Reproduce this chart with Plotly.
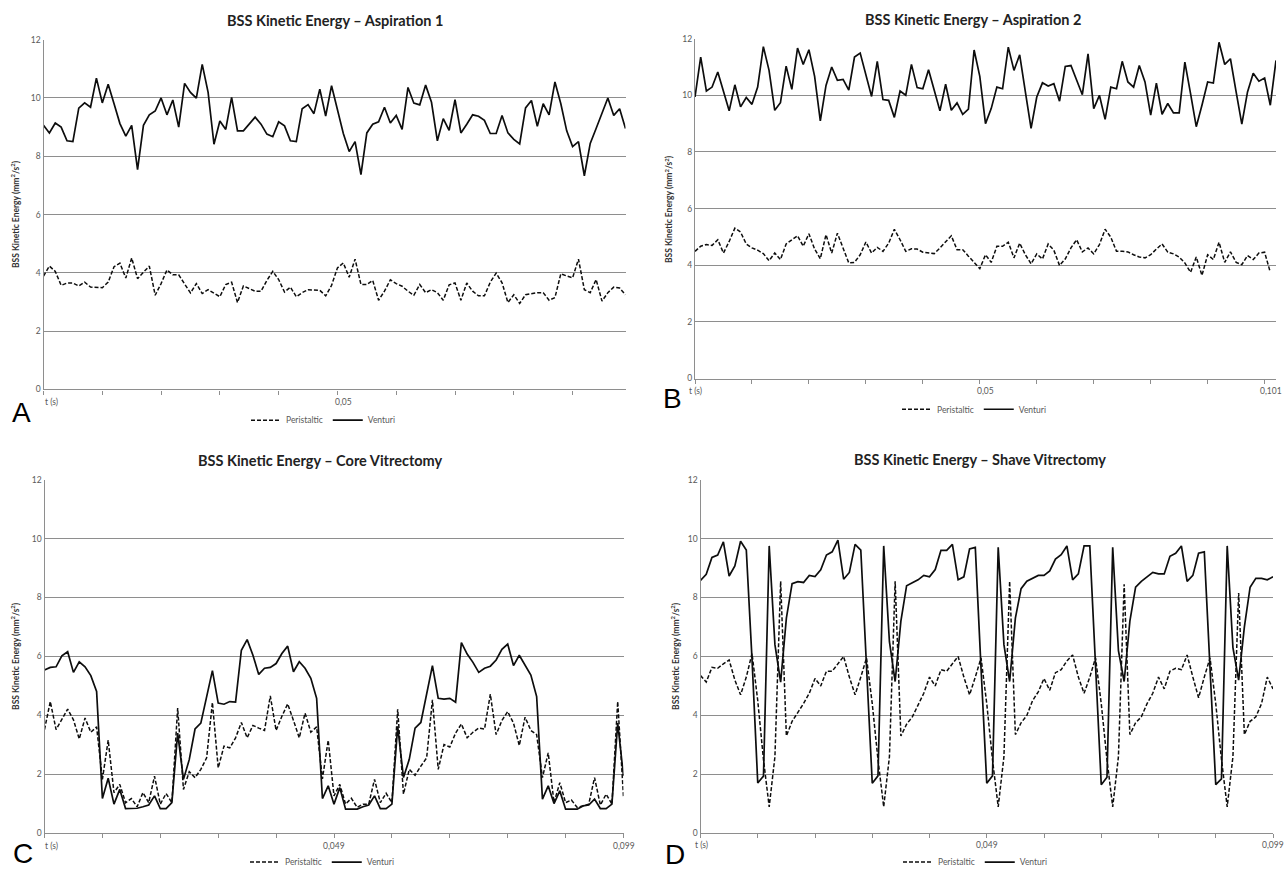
import plotly.graph_objects as go

W, H = 1285, 877

# ---------------- data ----------------
a_venturi = [9.06, 8.80, 9.14, 9.00, 8.53, 8.50, 9.65, 9.83, 9.68, 10.68,
             9.83, 10.47, 9.80, 9.12, 8.69, 9.06, 7.54, 9.06, 9.42, 9.55,
             10.00, 9.42, 9.93, 9.00, 10.50, 10.19, 9.99, 11.15, 10.19, 8.41,
             9.21, 8.92, 10.02, 8.87, 8.87, 9.12, 9.34, 9.10, 8.76, 8.67,
             9.18, 9.04, 8.53, 8.50, 9.63, 9.77, 9.46, 10.30, 9.38, 10.42,
             9.57, 8.78, 8.16, 8.50, 7.37, 8.80, 9.10, 9.18, 9.68, 9.14,
             9.40, 8.92, 10.36, 9.82, 9.76, 10.44, 9.85, 8.53, 9.29, 8.89,
             9.94, 8.80, 9.10, 9.42, 9.37, 9.23, 8.78, 8.78, 9.40, 8.80,
             8.58, 8.42, 9.66, 9.91, 9.03, 9.80, 9.42, 10.55, 9.80, 8.87,
             8.33, 8.50, 7.33, 8.44, 8.95, 9.46, 10.00, 9.40, 9.63, 8.95]
a_peristaltic = [3.89, 4.23, 4.05, 3.57, 3.65, 3.65, 3.55, 3.68, 3.51, 3.51,
                 3.49, 3.68, 4.21, 4.33, 3.82, 4.51, 3.80, 4.02, 4.23, 3.23,
                 3.63, 4.10, 3.93, 3.93, 3.60, 3.31, 3.63, 3.29, 3.42, 3.29,
                 3.18, 3.60, 3.68, 2.98, 3.55, 3.46, 3.37, 3.37, 3.74, 4.05,
                 3.77, 3.34, 3.51, 3.18, 3.32, 3.42, 3.40, 3.40, 3.21, 3.57,
                 4.17, 4.34, 3.85, 4.47, 3.60, 3.60, 3.74, 3.06, 3.37, 3.76,
                 3.63, 3.54, 3.37, 3.23, 3.60, 3.32, 3.42, 3.32, 3.06, 3.59,
                 3.65, 3.06, 3.65, 3.37, 3.21, 3.21, 3.68, 3.99, 3.66, 2.98,
                 3.25, 2.95, 3.25, 3.29, 3.32, 3.32, 3.06, 3.15, 3.97, 3.89,
                 3.83, 4.47, 3.42, 3.32, 3.77, 3.03, 3.32, 3.51, 3.48, 3.25]

b_venturi = [9.94, 11.35, 10.15, 10.29, 10.82, 10.12, 9.45, 10.37, 9.59, 9.92,
             9.68, 10.29, 11.72, 10.88, 9.47, 9.74, 11.03, 10.21, 11.67, 11.09,
             11.61, 10.67, 9.10, 10.35, 11.00, 10.53, 10.56, 10.18, 11.35, 11.49,
             10.76, 9.96, 11.20, 9.85, 9.82, 9.22, 10.15, 10.00, 11.09, 10.27,
             10.23, 10.90, 10.18, 9.45, 10.39, 9.47, 9.73, 9.33, 9.51, 11.60,
             10.67, 9.00, 9.53, 10.29, 10.23, 11.70, 10.88, 11.43, 10.12, 8.83,
             9.94, 10.44, 10.33, 10.41, 9.79, 11.02, 11.05, 10.53, 10.02, 11.46,
             9.53, 10.00, 9.15, 10.29, 10.23, 11.20, 10.47, 10.29, 11.05, 10.47,
             9.30, 10.43, 9.33, 9.71, 9.38, 9.38, 11.17, 10.06, 8.89, 9.65,
             10.47, 10.43, 11.87, 11.09, 11.29, 10.12, 8.98, 10.12, 10.78, 10.50,
             10.61, 9.65, 11.23]
b_peristaltic = [4.49, 4.67, 4.73, 4.70, 4.90, 4.43, 4.84, 5.31, 5.17, 4.75,
                 4.61, 4.53, 4.41, 4.16, 4.43, 4.20, 4.75, 4.88, 5.04, 4.67,
                 5.11, 4.57, 4.23, 5.08, 4.43, 5.13, 4.61, 4.08, 4.10, 4.37,
                 4.82, 4.43, 4.63, 4.49, 4.78, 5.27, 4.90, 4.49, 4.58, 4.57,
                 4.46, 4.43, 4.41, 4.61, 4.84, 5.04, 4.55, 4.55, 4.32, 4.08,
                 3.88, 4.37, 4.10, 4.67, 4.67, 4.81, 4.26, 4.78, 4.37, 4.05,
                 4.40, 4.22, 4.75, 4.53, 3.99, 4.22, 4.61, 4.90, 4.47, 4.61,
                 4.40, 4.73, 5.27, 4.99, 4.49, 4.49, 4.47, 4.37, 4.29, 4.26,
                 4.37, 4.57, 4.75, 4.46, 4.40, 4.29, 4.08, 3.75, 4.29, 3.64,
                 4.37, 4.20, 4.81, 4.10, 4.47, 4.10, 4.02, 4.34, 4.20, 4.43,
                 4.46, 3.75]

c_venturi = [5.54, 5.63, 5.65, 6.02, 6.16, 5.46, 5.82, 5.65, 5.35, 4.81,
             1.18, 1.87, 0.99, 1.49, 0.84, 0.84, 0.85, 0.90, 0.96, 1.27,
             0.84, 0.84, 1.04, 3.40, 1.83, 2.50, 3.54, 3.74, 4.64, 5.52,
             4.42, 4.38, 4.47, 4.45, 6.21, 6.57, 6.04, 5.39, 5.60, 5.63,
             5.76, 6.10, 6.35, 5.48, 5.82, 5.60, 5.26, 4.58, 1.18, 1.61,
             0.99, 1.55, 0.82, 0.82, 0.82, 0.90, 0.96, 1.27, 0.84, 0.84,
             0.99, 3.63, 1.89, 2.51, 3.57, 3.76, 4.75, 5.69, 4.58, 4.55,
             4.58, 4.45, 6.47, 6.08, 5.80, 5.46, 5.60, 5.67, 5.88, 6.24,
             6.42, 5.69, 6.04, 5.71, 5.37, 4.64, 1.16, 1.61, 1.01, 1.44,
             0.82, 0.82, 0.82, 0.93, 0.96, 1.16, 0.84, 0.84, 0.99, 3.74,
             1.94]
c_peristaltic = [3.52, 4.47, 3.52, 3.85, 4.21, 3.85, 3.20, 3.91, 3.43, 3.61,
                 1.83, 3.16, 1.38, 1.66, 1.04, 1.18, 0.90, 1.38, 1.04, 1.94,
                 0.99, 1.35, 1.04, 4.25, 1.49, 2.09, 1.89, 2.17, 2.56, 4.44,
                 2.22, 2.96, 2.90, 3.24, 3.76, 3.24, 3.66, 3.57, 3.49, 4.66,
                 3.49, 3.97, 4.39, 3.83, 3.24, 4.08, 3.43, 3.61, 1.85, 3.16,
                 1.27, 1.66, 0.99, 1.19, 0.88, 0.99, 0.99, 1.83, 1.04, 1.36,
                 1.04, 4.21, 1.33, 2.17, 1.97, 2.28, 2.56, 4.53, 2.17, 3.01,
                 2.93, 3.40, 3.71, 3.24, 3.43, 3.57, 3.54, 4.72, 3.35, 3.83,
                 4.13, 3.74, 2.98, 3.94, 3.49, 3.35, 1.89, 2.73, 1.04, 1.72,
                 1.04, 1.13, 0.88, 0.93, 0.99, 1.89, 0.96, 1.33, 0.99, 4.47,
                 1.24]

d_venturi = [8.58, 8.79, 9.36, 9.44, 9.89, 8.73, 9.07, 9.91, 9.61, 5.90,
             1.71, 1.94, 9.75, 6.40, 5.13, 7.30, 8.47, 8.54, 8.51, 8.75,
             8.71, 8.94, 9.44, 9.55, 9.95, 8.62, 8.85, 9.80, 9.61, 5.60,
             1.70, 1.95, 9.75, 6.50, 5.15, 7.20, 8.40, 8.50, 8.60, 8.75,
             8.70, 8.95, 9.60, 9.60, 9.80, 8.60, 8.70, 9.65, 9.70, 5.60,
             1.70, 1.95, 9.70, 6.40, 5.15, 7.30, 8.30, 8.55, 8.65, 8.75,
             8.75, 8.90, 9.30, 9.45, 9.75, 8.60, 8.80, 9.75, 9.75, 5.60,
             1.65, 1.90, 9.70, 6.20, 5.15, 7.20, 8.35, 8.55, 8.70, 8.85,
             8.80, 8.80, 9.40, 9.50, 9.75, 8.55, 8.75, 9.50, 9.55, 5.60,
             1.65, 1.85, 9.75, 6.30, 5.20, 7.00, 8.35, 8.65, 8.65, 8.60,
             8.70]
d_peristaltic = [5.35, 5.13, 5.63, 5.60, 5.75, 5.88, 5.20, 4.70, 5.30, 6.10,
                 4.50, 2.50, 0.90, 2.60, 8.55, 3.30, 3.80, 4.10, 4.40, 4.75,
                 5.25, 5.00, 5.50, 5.50, 5.75, 6.00, 5.30, 4.70, 5.30, 5.95,
                 4.40, 2.50, 0.90, 2.60, 8.55, 3.30, 3.70, 3.95, 4.35, 4.75,
                 5.30, 5.00, 5.55, 5.50, 5.75, 6.00, 5.30, 4.70, 5.30, 5.95,
                 4.40, 2.50, 0.90, 2.60, 8.55, 3.35, 3.75, 4.00, 4.50, 4.80,
                 5.25, 4.85, 5.45, 5.55, 5.85, 6.05, 5.30, 4.75, 5.30, 5.95,
                 4.40, 2.50, 0.90, 2.60, 8.45, 3.35, 3.75, 3.95, 4.40, 4.75,
                 5.30, 4.90, 5.50, 5.60, 5.55, 6.05, 5.30, 4.60, 5.30, 5.95,
                 4.40, 2.50, 0.90, 2.60, 8.15, 3.35, 3.80, 3.95, 4.40, 5.30,
                 4.90]

titles = ["BSS Kinetic Energy – Aspiration 1", "BSS Kinetic Energy – Aspiration 2",
          "BSS Kinetic Energy – Core Vitrectomy", "BSS Kinetic Energy – Shave Vitrectomy"]
panel_letters = ["A", "B", "C", "D"]
series_names = ["Peristaltic", "Venturi"]
y_ticks = [0, 2, 4, 6, 8, 10, 12]
y_title = "<b>BSS Kinetic Energy (mm<sup>2</sup>/s<sup>2</sup>)</b>"
# x labels: (category index, text)
x_labels = [[(51, "0,05")], [(51, "0,05"), (102, "0,101")],
            [(50, "0,049"), (100, "0,099")], [(50, "0,049"), (100, "0,099")]]

# ---------------- layout geometry (pixels) ----------------
panels = [
    dict(x0=43.5, x1=625.5, y0=40, y1=393, title=(335, 21), ytitle=(15, 216),
         tlab=(43, 406, "left"), leg=(323, 424), letter=(21, 416)),
    dict(x0=695, x1=1276, y0=39, y1=382, title=(973, 20), ytitle=(669, 211),
         tlab=(695, 395, "center"), leg=(974, 413), letter=(672, 402)),
    dict(x0=44.5, x1=623.5, y0=484, y1=841, title=(320, 465), ytitle=(15, 662),
         tlab=(43, 854, "left"), leg=(322, 870), letter=(23, 861)),
    dict(x0=700.5, x1=1273, y0=484, y1=841, title=(980, 464), ytitle=(675, 662),
         tlab=(702, 853, "center"), leg=(975, 870), letter=(675, 862)),
]

data = [(a_peristaltic, a_venturi), (b_peristaltic, b_venturi),
        (c_peristaltic, c_venturi), (d_peristaltic, d_venturi)]

FONT = "Lato, 'Open Sans', sans-serif"
GRID = "#8e8e8e"
TICKC = "#595959"

fig = go.Figure()
annotations = []
layout = dict(width=W, height=H, margin=dict(l=0, r=0, t=0, b=0),
              paper_bgcolor="white", plot_bgcolor="white", showlegend=True)

def px(x):
    return x / W

def py(y):
    return 1 - y / H

for k, (p, (peri, vent)) in enumerate(zip(panels, data)):
    sfx = "" if k == 0 else str(k + 1)
    n = max(len(peri), len(vent))
    leg = "legend" if k == 0 else f"legend{k+1}"
    fig.add_trace(go.Scatter(x=list(range(len(peri))), y=peri, mode="lines",
                             name=series_names[0], legend=leg,
                             line=dict(color="#0d0d0d", width=1.5, dash="4px,2px"),
                             xaxis="x" + sfx, yaxis="y" + sfx))
    fig.add_trace(go.Scatter(x=list(range(len(vent))), y=vent, mode="lines",
                             name=series_names[1], legend=leg,
                             line=dict(color="#0d0d0d", width=1.7),
                             xaxis="x" + sfx, yaxis="y" + sfx))
    layout["xaxis" + sfx] = dict(
        domain=[px(p["x0"]), px(p["x1"])], anchor="y" + sfx,
        range=[0, n - 1], showgrid=False, zeroline=False, automargin=False,
        showline=True, linecolor=GRID, linewidth=1.2,
        ticks="outside", ticklen=4, tickcolor=GRID, tickwidth=1,
        tickvals=list(range(0, n, 10)), showticklabels=False,
        fixedrange=True)
    layout["yaxis" + sfx] = dict(
        domain=[py(p["y1"]), py(p["y0"])], anchor="x" + sfx, automargin=False,
        range=[0, 12], tickvals=y_ticks, showgrid=True, gridcolor=GRID,
        gridwidth=1.2, zeroline=False, showline=True, linecolor=GRID,
        linewidth=1.2, ticks="", tickfont=dict(family=FONT, size=8.5, color=TICKC),
        fixedrange=True)
    layout[leg] = dict(orientation="h", x=px(p["leg"][0]), y=py(p["leg"][1]),
                       xanchor="center", yanchor="middle",
                       font=dict(family=FONT, size=8.5, color=TICKC),
                       bgcolor="rgba(0,0,0,0)", itemwidth=30,
                       traceorder="normal", tracegroupgap=0)
    # subplot title
    annotations.append(dict(x=px(p["title"][0]), y=py(p["title"][1]),
                            xref="paper", yref="paper", showarrow=False,
                            text="<b>" + titles[k] + "</b>",
                            font=dict(family=FONT, size=14.5, color="#222222"),
                            xanchor="center", yanchor="middle"))
    # y-axis title
    annotations.append(dict(x=px(p["ytitle"][0]), y=py(p["ytitle"][1]),
                            xref="paper", yref="paper", showarrow=False,
                            text=y_title, textangle=-90,
                            font=dict(family=FONT, size=8.5, color="#333333"),
                            xanchor="center", yanchor="middle"))
    # "t (s)" label
    tx, ty, tal = p["tlab"]
    annotations.append(dict(x=px(tx), y=py(ty), xref="paper", yref="paper",
                            showarrow=False, text="t (s)", xanchor=tal,
                            yanchor="middle",
                            font=dict(family=FONT, size=8.5, color=TICKC)))
    # category labels
    for idx, txt in x_labels[k]:
        xpix = p["x0"] + (p["x1"] - p["x0"]) * idx / (n - 1)
        anchor = "center"
        if xpix + 12 > W:
            xpix, anchor = W - 1, "right"
        annotations.append(dict(x=px(xpix), y=py(ty), xref="paper", yref="paper",
                                showarrow=False, text=txt, xanchor=anchor,
                                yanchor="middle",
                                font=dict(family=FONT, size=8.5, color=TICKC)))
    # panel letter
    annotations.append(dict(x=px(p["letter"][0]), y=py(p["letter"][1]),
                            xref="paper", yref="paper", showarrow=False,
                            text=panel_letters[k], xanchor="center",
                            yanchor="middle",
                            font=dict(family="Liberation Sans, Arial, sans-serif",
                                      size=28, color="#000000")))

layout["annotations"] = annotations
fig.update_layout(**layout)
fig.write_html("out.html", config={"displayModeBar": False},
               post_script="document.body.style.margin='0px';"
                           "document.body.style.padding='0px';"
                           "document.body.style.overflow='hidden';")
